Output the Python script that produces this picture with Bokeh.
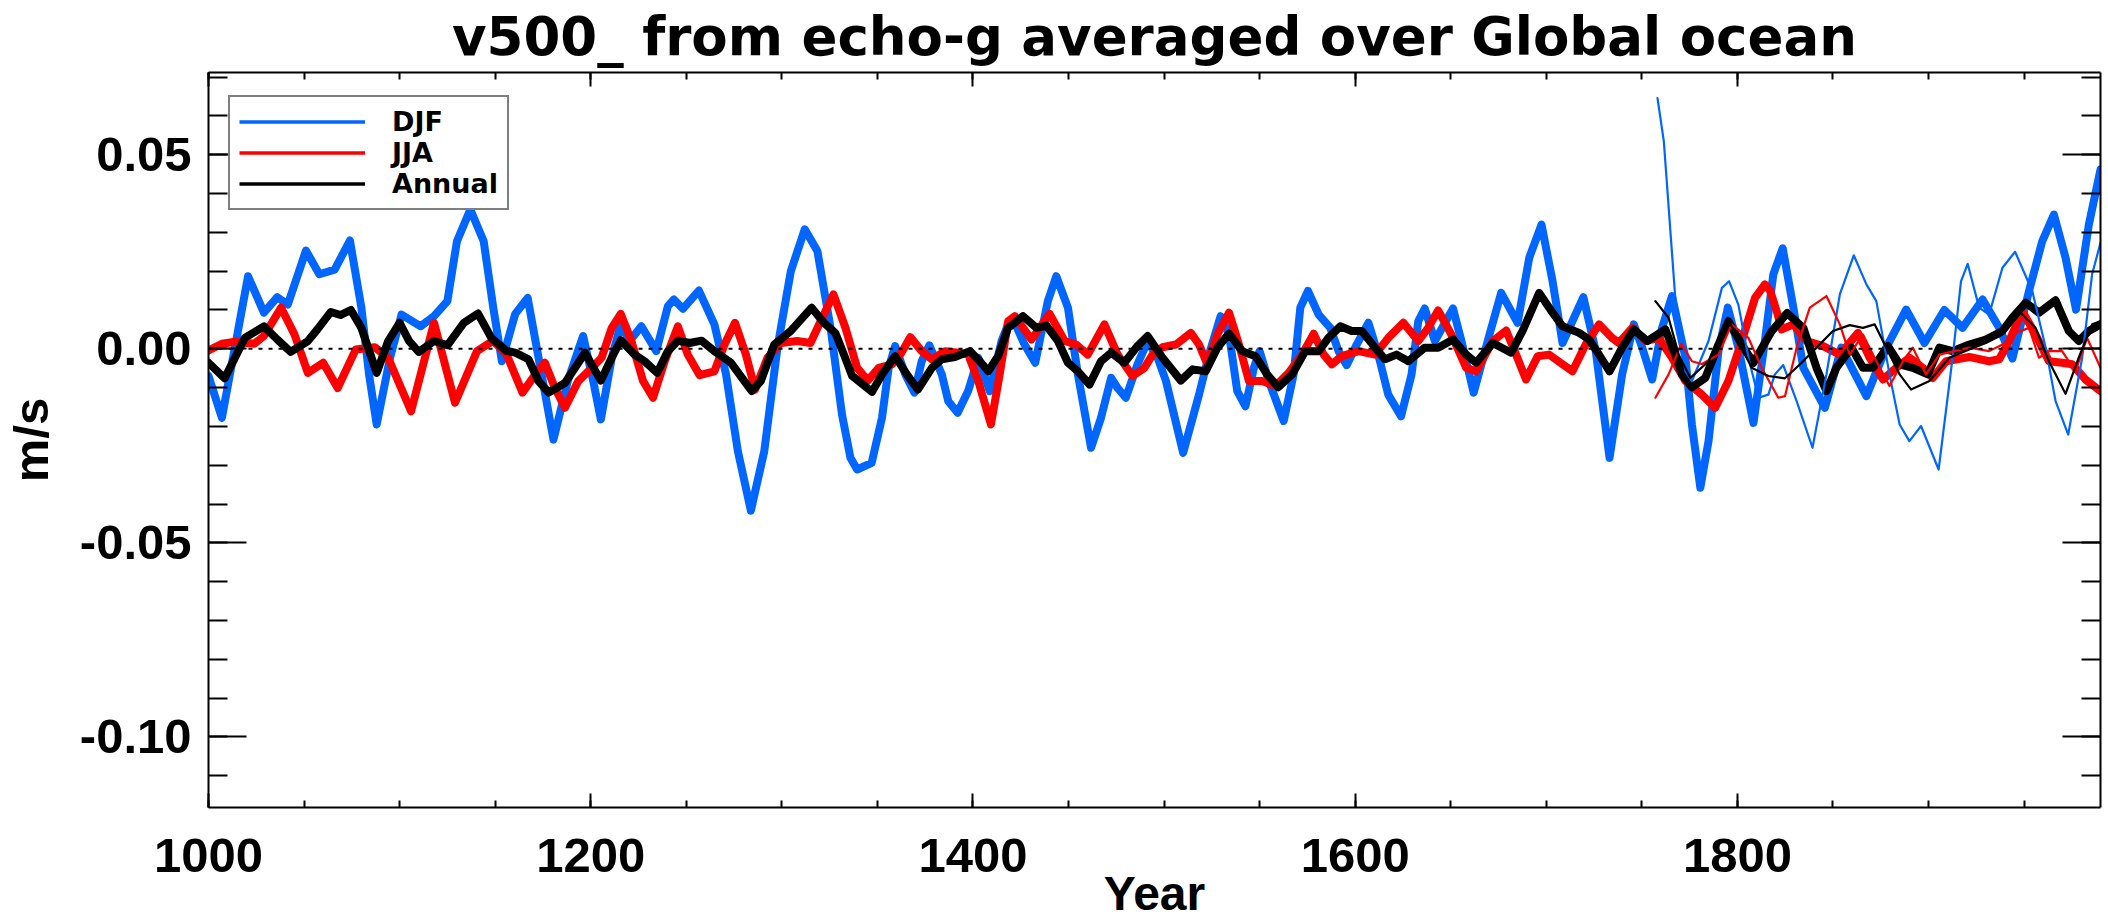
from bokeh.plotting import figure
from bokeh.embed import file_html
from bokeh.resources import INLINE
from bokeh.models import (Legend, LegendItem, Span, FixedTicker, LinearAxis,
                          PrintfTickFormatter, Range1d, CustomLabelingPolicy)

# ---------------- data (year, m/s) ----------------
djf_echo = [(1000,-0.0070),(1007,-0.0178),(1020.7,0.0187),(1029,0.0093),(1036,0.0133),(1041.5,0.0114),
 (1051,0.0253),(1058,0.0192),(1066,0.0204),(1074,0.0279),(1080,0.0106),(1084,-0.0066),(1088,-0.0195),
 (1095,-0.0023),(1101,0.0088),(1111,0.0058),(1118,0.0084),(1125,0.0123),(1130,0.0277),(1137,0.0359),
 (1144,0.0277),(1149,0.0106),(1153.5,-0.0032),(1160.5,0.0090),(1167,0.0131),(1172.7,-0.0023),
 (1180.5,-0.0234),(1188,-0.0083),(1196,0.0033),(1201.3,-0.0083),(1205.3,-0.0182),(1211,-0.0023),
 (1215.7,0.0063),(1220.4,0.0020),(1226.5,0.0058),(1234.3,-0.0006),(1240.4,0.0110),(1243.5,0.0127),
 (1248.2,0.0103),(1256.6,0.0150),(1264.7,0.0063),(1270.8,-0.0066),(1277,-0.0264),(1283.8,-0.0417),
 (1290.8,-0.0264),(1297.7,0.0003),(1304.7,0.0200),(1312,0.0308),(1318.6,0.0252),(1325.5,0.0054),
 (1331.5,-0.0170),(1335.9,-0.0281),(1339.4,-0.0311),(1347,-0.0294),(1352.4,-0.0178),(1355.9,-0.0049),
 (1359.3,0.0007),(1364.6,-0.0066),(1369.4,-0.0113),(1373.2,-0.0032),(1377.2,0.0009),(1383.7,-0.0066),
 (1387.1,-0.0135),(1392,-0.0165),(1397.5,-0.0109),(1402.8,-0.0023),(1408.8,-0.0109),(1415,0.0020),
 (1418.4,0.0063),(1421.9,0.0067),(1427,0.0011),(1432.6,-0.0036),(1439.2,0.0123),(1443.6,0.0187),
 (1449.7,0.0106),(1454.9,-0.0066),(1461.8,-0.0255),(1467,-0.0178),(1472.3,-0.0075),(1475.7,-0.0101),
 (1480,-0.0126),(1486.1,-0.0040),(1491.4,0.0020),(1496.6,-0.0023),(1501,-0.0083),(1510,-0.0268),
 (1518.3,-0.0118),(1523.5,-0.0015),(1529.6,0.0084),(1534,0.0037),(1538.3,-0.0109),(1542.6,-0.0148),
 (1547,-0.0049),(1550,-0.0006),(1554.8,-0.0083),(1562.6,-0.0186),(1567.8,-0.0066),(1571.3,0.0106),
 (1575.3,0.0149),(1580.9,0.0088),(1587,0.0054),(1591.3,-0.0006),(1595.6,-0.0042),(1600.8,0.0011),
 (1606.9,0.0067),(1612.1,-0.0015),(1617.3,-0.0118),(1624,-0.0174),(1629.5,-0.0066),(1633,0.0071),
 (1636.4,0.0104),(1641.7,0.0020),(1651.2,0.0104),(1655.6,0.0020),(1662,-0.0113),(1670.3,0.0037),
 (1676.4,0.0144),(1685,0.0067),(1691.1,0.0235),(1697.5,0.0320),(1703.3,0.0174),(1708.5,0.0015),
 (1719.4,0.0133),(1725.9,-0.0006),(1733.1,-0.0281),(1739.7,-0.0066),(1745.8,0.0063),(1750.2,0.0003),
 (1755.4,-0.0079),(1760.6,0.0054),(1765.8,0.0136),(1772.8,-0.0023),(1776.2,-0.0195),(1780.6,-0.0358),
 (1784.9,-0.0238),(1790.1,-0.0006),(1795,0.0106),(1800.5,0.0003),(1808.4,-0.0191),(1814.4,0.0020),
 (1818.8,0.0192),(1823.7,0.0259),(1829.3,0.0106),(1834.5,-0.0049),(1845.8,-0.0152),(1854.4,0.0003),
 (1867.5,-0.0122),(1877.9,0.0003),(1888.3,0.0101),(1897.9,0.0015),(1908.3,0.0100),(1917.8,0.0054),
 (1928.3,0.0127),(1937,0.0054),(1943.9,-0.0025),(1952.6,0.0149),(1959.5,0.0277),(1965.6,0.0346),
 (1971.7,0.0235),(1977.2,0.0101),(1983.9,0.0320),(1990,0.0462)]

jja_echo = [(1000,-0.0004),(1007,0.0013),(1014,0.0018),(1024,0.0013),(1029,0.0033),(1038,0.0106),
 (1045,0.0037),(1052,-0.0062),(1060,-0.0036),(1067.6,-0.0101),(1077,-0.0002),(1087,0.0004),
 (1094,-0.0023),(1106,-0.0161),(1118,0.0067),(1129,-0.0139),(1140.5,-0.0006),(1149,0.0021),
 (1156,-0.0015),(1164.3,-0.0113),(1171,-0.0066),(1176,-0.0036),(1181.3,-0.0101),(1186.5,-0.0152),
 (1193.5,-0.0083),(1198.7,-0.0058),(1205.7,-0.0023),(1211,0.0054),(1215.7,0.0090),(1221.3,0.0020),
 (1227.4,-0.0083),(1232.6,-0.0126),(1238.7,-0.0032),(1245.6,0.0058),(1250.8,-0.0015),(1257,-0.0068),
 (1264.7,-0.0058),(1270,0.0011),(1275.5,0.0067),(1281.2,-0.0015),(1286,-0.0105),(1292.5,-0.0023),
 (1299.5,0.0015),(1308,0.0020),(1315,0.0015),(1320.3,0.0071),(1327,0.0140),(1333.3,0.0054),
 (1339.4,-0.0049),(1345,-0.0082),(1350.7,-0.0049),(1357.6,-0.0040),(1362,-0.0015),(1367.2,0.0030),
 (1373.2,-0.0006),(1378.5,-0.0027),(1385.4,-0.0006),(1392.3,-0.0010),(1397.5,-0.0015),(1402.8,-0.0083),
 (1409.4,-0.0195),(1414,-0.0066),(1418.4,0.0071),(1421.9,0.0084),(1430.6,0.0024),(1440.1,0.0090),
 (1448,0.0020),(1454,0.0011),(1460.1,-0.0015),(1468.8,0.0063),(1475.7,-0.0015),(1483.5,-0.0070),
 (1489.6,-0.0050),(1494,-0.0015),(1499.2,0.0004),(1506.2,0.0011),(1514,0.0041),(1518.3,0.0011),
 (1522.7,-0.0040),(1527.9,0.0037),(1534,0.0093),(1539.2,0.0011),(1544.4,-0.0083),(1551.3,-0.0083),
 (1558.3,-0.0096),(1565.2,-0.0062),(1572.2,-0.0015),(1578.3,0.0039),(1583.5,-0.0015),(1587.8,-0.0040),
 (1593,-0.0019),(1601.7,-0.0006),(1610.4,-0.0015),(1617.3,0.0028),(1625.2,0.0067),(1633,0.0020),
 (1638.2,0.0054),(1643.4,0.0099),(1650.3,0.0037),(1658.1,-0.0049),(1663.3,-0.0058),(1672,0.0020),
 (1679,0.0047),(1684.2,-0.0015),(1689.4,-0.0079),(1695.5,-0.0019),(1701.5,-0.0015),(1708.5,-0.0040),
 (1713.7,-0.0058),(1720.6,0.0011),(1727.6,0.0063),(1734.5,0.0028),(1738,0.0015),(1745,0.0054),
 (1751.9,0.0020),(1758.9,0.0028),(1765.8,-0.0023),(1772.8,-0.0083),(1781.4,-0.0118),(1788.4,-0.0152),
 (1795.3,-0.0083),(1802.3,0.0020),(1809.2,0.0131),(1814.4,0.0166),(1817.1,0.0150),(1821,0.0090),
 (1823.2,0.0050),(1829.3,0.0063),(1836.2,0.0020),(1844.9,0.0007),(1853.6,-0.0015),(1863.1,0.0041),
 (1869.2,-0.0023),(1876.2,-0.0079),(1883.1,-0.0049),(1890.1,-0.0023),(1897,-0.0049),(1902.2,-0.0075),
 (1909.2,-0.0032),(1921.3,-0.0021),(1931.7,-0.0032),(1937,-0.0027),(1942.2,0.0020),(1949.1,0.0097),
 (1956,0.0037),(1963,-0.0032),(1969.9,-0.0036),(1975.2,-0.0040),(1982.1,-0.0079),(1990,-0.0109)]

ann_echo = [(1000,-0.0036),(1008.5,-0.0076),(1019,0.0028),(1029,0.0058),(1036,0.0024),(1043,-0.0008),
 (1052,0.0020),(1057,0.0050),(1064,0.0095),(1069,0.0087),(1074.5,0.0100),(1080,0.0054),(1088,-0.0062),
 (1094,0.0020),(1100,0.0067),(1105,0.0020),(1110,-0.0008),(1118,0.0020),(1125,0.0009),(1133.6,0.0067),
 (1141,0.0091),(1148,0.0028),(1156,-0.0006),(1160.5,-0.0010),(1167.4,-0.0027),(1172.7,-0.0083),
 (1178,-0.0113),(1186.5,-0.0088),(1197,-0.0010),(1205.3,-0.0082),(1211,-0.0023),(1215.7,0.0022),
 (1223,-0.0015),(1228.2,-0.0032),(1234.8,-0.0062),(1240.4,-0.0006),(1245.6,0.0021),(1251.7,0.0015),
 (1258,0.0021),(1264.7,-0.0006),(1273.4,-0.0036),(1280.4,-0.0083),(1284.3,-0.0109),(1289,-0.0083),
 (1296,0.0011),(1304.7,0.0046),(1315.6,0.0106),(1322,0.0067),(1328,0.0041),(1332.5,-0.0015),
 (1336.8,-0.0070),(1347.2,-0.0111),(1352.4,-0.0066),(1359.3,-0.0019),(1365.4,-0.0066),(1371.2,-0.0105),
 (1378.5,-0.0049),(1383.7,-0.0027),(1390.6,-0.0021),(1398.4,-0.0006),(1403.6,-0.0032),(1408,-0.0058),
 (1413.2,-0.0019),(1418.4,0.0054),(1426.2,0.0084),(1433.2,0.0054),(1438.4,0.0060),(1444.5,0.0020),
 (1449.7,-0.0036),(1454.9,-0.0058),(1461,-0.0092),(1467,-0.0032),(1472.3,-0.0010),(1479.2,-0.0036),
 (1486.1,0.0007),(1491.4,0.0033),(1499.2,-0.0023),(1508.8,-0.0082),(1514.9,-0.0053),(1521.8,-0.0058),
 (1527.9,0.0003),(1534,0.0039),(1540.9,-0.0006),(1547.9,-0.0019),(1553.9,-0.0066),(1559.7,-0.0099),
 (1567,-0.0066),(1573.9,-0.0006),(1580.9,-0.0006),(1586,0.0028),(1592.2,0.0058),(1598.2,0.0046),
 (1603.5,0.0046),(1610.4,0.0003),(1615.6,-0.0027),(1621.7,-0.0015),(1627.8,-0.0032),(1636.4,0.0003),
 (1643.4,0.0003),(1651.2,0.0024),(1658.1,-0.0015),(1663.3,-0.0036),(1672,0.0015),(1681.6,-0.0010),
 (1687.6,0.0046),(1696.3,0.0144),(1703.3,0.0093),(1708.5,0.0058),(1717.2,0.0041),(1722.4,0.0024),
 (1727.6,-0.0015),(1733.1,-0.0058),(1739.7,0.0003),(1745.8,0.0050),(1752.8,0.0020),(1762.3,0.0050),
 (1767.5,-0.0015),(1771,-0.0066),(1776.2,-0.0099),(1783.2,-0.0075),(1790.1,0.0011),(1795.3,0.0071),
 (1802.3,0.0011),(1808.4,-0.0036),(1817.9,0.0045),(1826,0.0092),(1834.5,0.0054),(1841.4,-0.0049),
 (1846.6,-0.0109),(1851.8,-0.0049),(1859.7,0.0003),(1865.7,-0.0049),(1871,-0.0049),(1878.8,0.0007),
 (1884.9,-0.0040),(1891.8,-0.0049),(1899.6,-0.0066),(1905.7,0.0003),(1912.6,-0.0006),(1921.3,0.0011),
 (1930,0.0024),(1938.7,0.0046),(1943.9,0.0080),(1950.9,0.0119),(1957.8,0.0093),(1966.5,0.0125),
 (1973.4,0.0046),(1978.6,0.0020),(1983.9,0.0046),(1990,0.0063)]

djf_obs = [(1758.2,0.0646),(1761.5,0.0535),(1767.5,0.0131),(1772.8,-0.0058),(1776.2,-0.0083),
 (1784.9,0.0020),(1791.9,0.0157),(1795.7,0.0174),(1800.5,0.0114),(1805.8,-0.0023),(1811,-0.0126),
 (1816.2,-0.0118),(1819.6,-0.0066),(1824,-0.0042),(1831,-0.0135),(1839.3,-0.0255),(1846.6,-0.0066),
 (1853.6,0.0140),(1860.9,0.0241),(1867.5,0.0166),(1872.7,0.0123),(1879.6,-0.0066),(1884.9,-0.0195),
 (1890,-0.0238),(1896.1,-0.0199),(1905.3,-0.0311),(1912.6,-0.0023),(1917,0.0174),(1920.5,0.0219),
 (1926.5,0.0106),(1931.7,0.0088),(1938.7,0.0209),(1945.3,0.0250),(1954.3,0.0149),(1961.3,0.0003),
 (1966.5,-0.0135),(1973.1,-0.0221),(1980.4,-0.0023),(1985.6,0.0192),(1990,0.0273)]

jja_obs = [(1757.1,-0.0126),(1764,-0.0066),(1770.7,0.0013),(1776.2,-0.0032),(1781.4,-0.0039),
 (1790.1,-0.0015),(1797,0.0063),(1805.8,0.0028),(1812.7,-0.0049),(1821.4,-0.0126),(1824.9,-0.0122),
 (1831,0.0003),(1837.9,0.0106),(1846.6,0.0136),(1853.6,0.0063),(1858.8,-0.0015),(1865.7,0.0037),
 (1872.7,-0.0032),(1879.6,-0.0096),(1886.6,-0.0032),(1891.8,0.0003),(1898.7,-0.0066),(1905.7,-0.0015),
 (1921.3,0.0003),(1931.7,-0.0006),(1938.7,0.0011),(1945.7,0.0041),(1952.6,0.0054),(1957.8,-0.0023),
 (1963,-0.0006),(1969.9,-0.0006),(1976.9,-0.0058),(1983,0.0028),(1990,-0.0049)]

ann_obs = [(1757.1,0.0123),(1764,0.0080),(1769.3,-0.0015),(1775.4,-0.0075),(1784.9,-0.0032),
 (1795,0.0080),(1800.5,0.0020),(1807.5,-0.0049),(1816.2,-0.0070),(1824.9,-0.0076),(1833.6,-0.0036),
 (1841.4,0.0003),(1850,0.0046),(1858.8,0.0061),(1865.7,0.0054),(1871.8,0.0063),(1877.9,0.0003),
 (1884.9,-0.0066),(1890.9,-0.0105),(1900.5,-0.0083),(1910.9,-0.0023),(1921.3,-0.0002),(1930,0.0015),
 (1938.7,0.0037),(1948.2,0.0093),(1956,0.0054),(1963,-0.0032),(1971.7,-0.0116),(1978.6,-0.0023),
 (1985.6,0.0063),(1990,0.0071)]

season_labels = ["DJF", "JJA", "Annual"]
x_major = [1000, 1200, 1400, 1600, 1800]
x_minor = list(range(1000, 1991, 50))
y_major = [-0.10, -0.05, 0.0, 0.05]
y_minor = [round(-0.11 + 0.01 * i, 2) for i in range(19)]

BLUE, RED, BLACK = "#0066ff", "#ff0000", "#000000"
TICK_FONT = "Liberation Sans"
TITLE_FONT = "DejaVu Sans"

p = figure(width=2106, height=924, x_range=Range1d(1000, 1990), y_range=Range1d(-0.1182, 0.0712),
           output_backend="svg", toolbar_location=None,
           title="v500_ from echo-g averaged over Global ocean",
           min_border_left=202, min_border_right=2, min_border_top=72, min_border_bottom=117)
p.background_fill_color = "white"
p.border_fill_color = "white"
p.outline_line_color = None
p.xgrid.visible = False
p.ygrid.visible = False

p.title.align = "center"
p.title.vertical_align = "top"
p.title.text_font = TITLE_FONT
p.title.text_font_style = "bold"
p.title.text_font_size = "53px"
p.title.text_color = "black"
p.title.standoff = 0

xt = FixedTicker(ticks=x_major, minor_ticks=x_minor)
yt = FixedTicker(ticks=y_major, minor_ticks=y_minor)


def style_axis(ax, ticker, major_len, minor_len, labels):
    ax.ticker = ticker
    ax.axis_line_width = 2
    ax.axis_line_color = "black"
    ax.major_tick_in = major_len
    ax.major_tick_out = 0
    ax.minor_tick_in = minor_len
    ax.minor_tick_out = 0
    ax.major_tick_line_width = 2
    ax.minor_tick_line_width = 2
    ax.major_tick_line_color = "black"
    ax.minor_tick_line_color = "black"
    if labels:
        ax.major_label_text_font = TICK_FONT
        ax.major_label_text_font_style = "bold"
        ax.major_label_text_font_size = "49px"
        ax.major_label_text_color = "black"
        ax.axis_label_text_font = TICK_FONT
        ax.axis_label_text_font_style = "bold"
        ax.axis_label_text_color = "black"
    else:
        # mirrored axis: ticks only, no labels drawn
        ax.major_label_policy = CustomLabelingPolicy(code="return []")
        ax.major_label_text_font_size = "1px"
        ax.major_label_standoff = 0


style_axis(p.xaxis[0], xt, 14, 7, True)
p.xaxis[0].major_label_standoff = 31
p.xaxis[0].axis_label = "Year"
p.xaxis[0].axis_label_text_font_size = "48px"
p.xaxis[0].axis_label_standoff = -8

style_axis(p.yaxis[0], yt, 38, 19, True)
p.yaxis[0].major_label_standoff = 17
p.yaxis[0].formatter = PrintfTickFormatter(format="%.2f")
p.yaxis[0].axis_label = "m/s"
p.yaxis[0].axis_label_text_font_size = "49px"
p.yaxis[0].axis_label_standoff = 19

top_ax = LinearAxis()
style_axis(top_ax, xt, 14, 7, False)
p.add_layout(top_ax, "above")
right_ax = LinearAxis()
style_axis(right_ax, yt, 38, 19, False)
p.add_layout(right_ax, "right")

p.add_layout(Span(location=0, dimension="width", line_color="black", line_width=2, line_dash="4 6"))


def unzip(pairs):
    return [a for a, _ in pairs], [b for _, b in pairs]


for pairs, col, w in [(djf_echo, BLUE, 8), (jja_echo, RED, 8), (ann_echo, BLACK, 8),
                      (djf_obs, BLUE, 2.2), (jja_obs, RED, 2.2), (ann_obs, BLACK, 2.2)]:
    xs, ys = unzip(pairs)
    p.line(xs, ys, line_color=col, line_width=w, line_join="round", line_cap="round")

# legend swatches: renderers holding a single missing value, used only by the legend
nan = float("nan")
leg_items = []
for lab, col in zip(season_labels, [BLUE, RED, BLACK]):
    r = p.line(x=[nan], y=[nan], line_color=col, line_width=3.5)
    leg_items.append(LegendItem(label=lab, renderers=[r]))

legend = Legend(items=leg_items, location=(20, 597), padding=9, spacing=-1, margin=0,
                glyph_width=126, glyph_height=31, label_height=31, label_standoff=27,
                label_text_font=TITLE_FONT, label_text_font_style="bold", label_text_font_size="27px",
                label_text_color="black",
                border_line_color="black", border_line_width=2,
                background_fill_color="white", background_fill_alpha=1.0)
p.add_layout(legend)

open("out.html", "w").write(file_html(p, INLINE))
